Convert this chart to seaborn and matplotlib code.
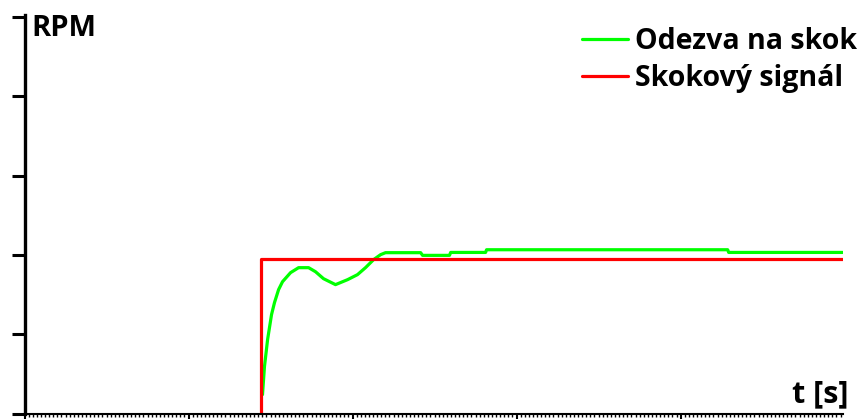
import numpy as np
import pandas as pd
import matplotlib
matplotlib.use("Agg")
import matplotlib.pyplot as plt
from matplotlib.ticker import MultipleLocator, NullFormatter
import seaborn as sns

# Step input signal (time in s, RPM level)
step_t = [1.44, 1.44, 4.99]
step_rpm = [0.0, 1.95, 1.95]

# Measured step response
resp_t = [1.451, 1.463, 1.482, 1.506, 1.524, 1.549, 1.573, 1.622, 1.671, 1.732,
          1.774, 1.823, 1.896, 1.970, 2.030, 2.079, 2.128, 2.171, 2.201, 2.415,
          2.427, 2.591, 2.598, 2.811, 2.817, 4.287, 4.293, 4.988]
resp_rpm = [0.239, 0.592, 0.932, 1.247, 1.398, 1.562, 1.662, 1.776, 1.839, 1.839,
            1.788, 1.700, 1.625, 1.688, 1.751, 1.839, 1.940, 2.003, 2.028, 2.028,
            1.994, 1.994, 2.031, 2.031, 2.065, 2.065, 2.031, 2.031]

label_resp = "Odezva na skok"
label_step = "Skokový signál"

df = pd.concat([
    pd.DataFrame({"t": resp_t, "rpm": resp_rpm, "serie": label_resp}),
    pd.DataFrame({"t": step_t, "rpm": step_rpm, "serie": label_step}),
], ignore_index=True)

sns.set_style("white")
plt.rcParams["font.family"] = ["Open Sans", "DejaVu Sans"]
plt.rcParams["text.color"] = "black"

fig = plt.figure(figsize=(8.6, 4.19), dpi=100)
ax = fig.add_axes([24.5 / 860, 5.5 / 419, (843 - 24.5) / 860, (413.5 - 14.6) / 419])

sns.lineplot(data=df, x="t", y="rpm", hue="serie",
             hue_order=[label_resp, label_step],
             palette={label_resp: "#00ff00", label_step: "#ff0000"},
             estimator=None, sort=False, linewidth=2.3, ax=ax)

ax.set_xlim(0, 4.99)
ax.set_ylim(0, 5.03)

for side in ("top", "right"):
    ax.spines[side].set_visible(False)
ax.spines["left"].set_linewidth(2.4)
ax.spines["left"].set_color("black")
ax.spines["bottom"].set_linewidth(1.5)
ax.spines["bottom"].set_color("black")

ax.yaxis.set_major_locator(MultipleLocator(1))
ax.yaxis.set_major_formatter(NullFormatter())
ax.tick_params(axis="y", which="major", left=True, length=9.5, width=2.2,
               color="black", direction="out")
ax.xaxis.set_major_locator(MultipleLocator(1))
ax.xaxis.set_minor_locator(MultipleLocator(0.025))
ax.xaxis.set_major_formatter(NullFormatter())
ax.tick_params(axis="x", which="major", bottom=True, length=5, width=1.5,
               color="black", direction="out")
ax.tick_params(axis="x", which="minor", bottom=True, length=2.5, width=1.0,
               color="black", direction="out")
ax.set_xlabel("")
ax.set_ylabel("")

fig.text(31 / 860, 1 - 36 / 419, "RPM", fontsize=21, fontweight="bold",
         color="black", ha="left", va="baseline")
fig.text(849 / 860, 1 - 402 / 419, "t [s]", fontsize=22, fontweight="bold",
         color="black", ha="right", va="baseline")

leg = ax.legend(loc="upper right", bbox_to_anchor=(857 / 860, 1 - 27 / 419),
                bbox_transform=fig.transFigure, frameon=False, fontsize=20.5,
                handlelength=1.6, handletextpad=0.25, labelspacing=0.27,
                borderaxespad=0, borderpad=0)
for t in leg.get_texts():
    t.set_fontweight("bold")
    t.set_color("black")
for l in leg.get_lines():
    l.set_linewidth(2.3)

fig.savefig("out.png", dpi=100)
